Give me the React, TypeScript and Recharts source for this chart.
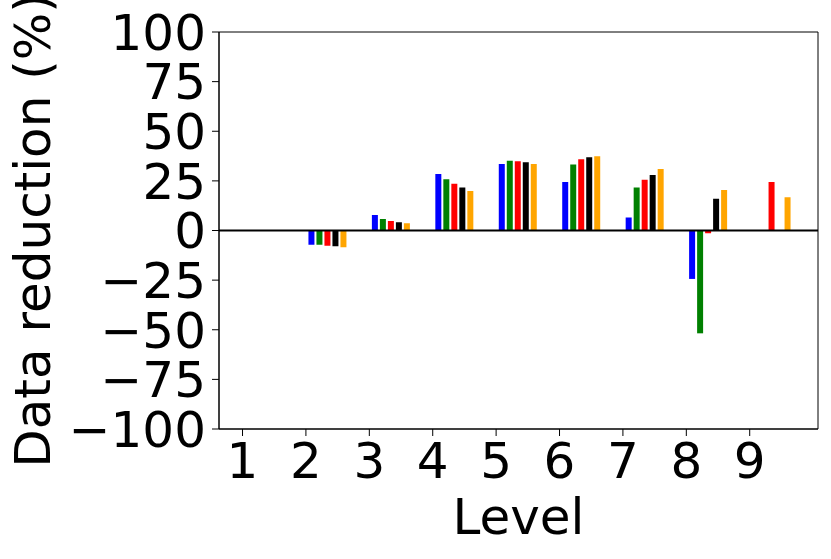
import {
  Bar,
  BarChart,
  Label,
  ReferenceArea,
  ReferenceLine,
  XAxis,
  YAxis,
} from "recharts";

const levels = [1, 2, 3, 4, 5, 6, 7, 8, 9];

const blueValues = [null, -7.2, 7.8, 28.5, 33.5, 24.4, 6.6, -24.4, null];
const greenValues = [null, -7.2, 5.8, 25.8, 35.2, 33.2, 21.6, -51.8, null];
const redValues = [null, -7.7, 4.8, 23.6, 34.9, 35.9, 25.6, -1.4, 24.4];
const blackValues = [null, -7.9, 4.1, 21.6, 34.4, 36.9, 28, 16, null];
const orangeValues = [null, -8.4, 3.6, 19.9, 33.5, 37.4, 31, 20.4, 16.7];

const xTicks = [1, 2, 3, 4, 5, 6, 7, 8, 9];
const yTicks = [-100, -75, -50, -25, 0, 25, 50, 75, 100];

const data = levels.map((level, i) => ({
  level,
  group: `g${level}`,
  blue: blueValues[i],
  green: greenValues[i],
  red: redValues[i],
  black: blackValues[i],
  orange: orangeValues[i],
}));

const series = [
  { key: "blue", color: "#0000ff" },
  { key: "green", color: "#008000" },
  { key: "red", color: "#ff0000" },
  { key: "black", color: "#000000" },
  { key: "orange", color: "#ffa500" },
];

const xMin = 0.629;
const xMax = 10.077;

const tickStyle = { fontSize: 50, fill: "#000" };

function YTitle(props: any) {
  const vb = props.viewBox || { x: 0, y: 0, width: 0, height: 0 };
  const x = vb.x + 50;
  const y = vb.y + vb.height / 2;
  return (
    <text
      x={x}
      y={y}
      transform={`rotate(-90 ${x} ${y})`}
      textAnchor="middle"
      fontSize={50}
      fill="#000"
    >
      Data reduction (%)
    </text>
  );
}

export default function App() {
  return (
    <div
      style={{
        position: "absolute",
        left: 0,
        top: 0,
        background: "#fff",
        fontFamily: "'DejaVu Sans', sans-serif",
      }}
    >
      <BarChart
        width={831}
        height={559}
        data={data}
        margin={{ top: 32, right: 13, left: 0, bottom: 0 }}
        barSize={6}
        barGap={2}
      >
        <XAxis
          xAxisId="cat"
          dataKey="group"
          type="category"
          hide
          height={0}
          padding={{ left: 13, right: 15 }}
        />
        <XAxis
          xAxisId="num"
          dataKey="level"
          type="number"
          domain={[xMin, xMax]}
          ticks={xTicks}
          interval={0}
          allowDataOverflow
          height={130}
          tickSize={7}
          tickMargin={6}
          tick={tickStyle}
          stroke="#000"
          tickLine={{ stroke: "#000" }}
          axisLine={{ stroke: "#000" }}
        >
          <Label
            value="Level"
            position="insideBottom"
            offset={25}
            fontSize={50}
            fill="#000"
          />
        </XAxis>
        <YAxis
          domain={[-100, 100]}
          ticks={yTicks}
          interval={0}
          width={219}
          tickSize={7}
          tickMargin={6}
          tick={tickStyle}
          tickFormatter={(v: number) => String(v).replace("-", "\u2212")}
          stroke="#000"
          tickLine={{ stroke: "#000" }}
          axisLine={{ stroke: "#000" }}
          allowDataOverflow
        >
          <Label content={<YTitle />} />
        </YAxis>
        {series.map((s) => (
          <Bar
            key={s.key}
            xAxisId="cat"
            dataKey={s.key}
            fill={s.color}
            isAnimationActive={false}
          />
        ))}
        <ReferenceLine
          xAxisId="num"
          y={0}
          stroke="#000"
          strokeWidth={2}
        />
        <ReferenceArea
          xAxisId="num"
          x1={xMin}
          x2={xMax}
          y1={-100}
          y2={100}
          fill="none"
          stroke="#000"
          strokeWidth={1}
          fillOpacity={0}
        />
      </BarChart>
    </div>
  );
}
